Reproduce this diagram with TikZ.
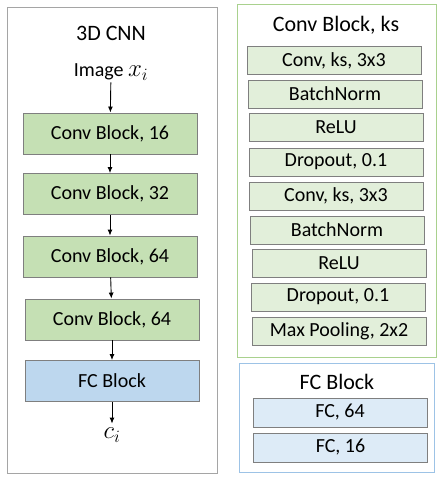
\documentclass[tikz,border=0pt]{standalone}
\usepackage{fontspec}
\setmainfont{Carlito}
\usetikzlibrary{arrows.meta, positioning}
\definecolor{green1}{RGB}{197,224,180}
\definecolor{green2}{RGB}{226,239,218}
\definecolor{blue1}{RGB}{189,215,238}
\definecolor{blue2}{RGB}{221,235,247}
\definecolor{gray1}{RGB}{127,127,127}
\definecolor{framegray}{RGB}{165,165,165}
\definecolor{framegreen}{RGB}{169,209,142}
\definecolor{frameblue}{RGB}{157,195,230}

\begin{document}
\begin{tikzpicture}[x=1pt, y=-1pt,
    every node/.style={anchor=center, inner sep=0pt, font=\fontsize{20}{24}\selectfont},
    myarrow/.style={-{Latex[length=6pt, width=5pt]}, line width=0.9pt, black},
    title/.style={font=\fontsize{22}{26}\selectfont},
    mathlabel/.style={font=\fontsize{24}{28}\selectfont, inner sep=4pt},
    convbox/.style={rectangle, draw=gray1, fill=green1, line width=0.9pt, minimum width=174pt, minimum height=41pt},
    fcbox/.style={convbox, fill=blue1},
    layerbox/.style={rectangle, draw=gray1, fill=green2, line width=0.9pt, minimum width=174pt, minimum height=28pt},
    fclayer/.style={layerbox, fill=blue2, minimum height=29pt}
]
\useasboundingbox (0,0) rectangle (445,482);

% frames
\draw[framegray, line width=0.9pt] (7,7) rectangle (217,473);
\draw[framegreen, line width=0.9pt] (237,4) rectangle (436,357);
\draw[frameblue, line width=0.9pt] (239,363) rectangle (434,472);

% 3D CNN
\node[title, name=cnntitle] at (111,33) {3D CNN};
\node[name=img, inner sep=2pt] at (111,72) {Image {\fontsize{24}{28}\selectfont$x_i$}};
\node[convbox, name=cb16] at (110,133.5) {Conv Block, 16};
\node[convbox, name=cb32] at (110,194) {Conv Block, 32};
\node[convbox, name=cb64a] at (110,256.5) {Conv Block, 64};
\node[convbox, name=cb64b] at (112,319.5) {Conv Block, 64};
\node[fcbox, name=fc] at (112,381) {FC Block};
\node[mathlabel, name=ci] at (112,435) {$c_i$};

\draw[myarrow] (img) -- (cb16);
\draw[myarrow] (cb16) -- (cb32);
\draw[myarrow] (cb32) -- (cb64a);
\draw[myarrow] (cb64a) -- (cb64b);
\draw[myarrow] (cb64b) -- (fc);
\draw[myarrow] (fc) -- (ci);

% Conv Block, ks
\node[title, name=convtitle] at (336,25) {Conv Block, ks};
\foreach \i/\x/\y/\t in {1/334/60.5/{Conv, ks, 3x3}, 2/335/94/{BatchNorm}, 3/336/127/{ReLU},
    4/336/162/{Dropout, 0.1}, 5/336/196/{Conv, ks, 3x3}, 6/337/230/{BatchNorm},
    7/339/263/{ReLU}, 8/338/297/{Dropout, 0.1}, 9/339/331/{Max Pooling, 2x2}} {
    \node[layerbox, name=layer\i] at (\x,\y) {\t};
}

% FC Block
\node[title, name=fctitle] at (337,382) {FC Block};
\node[fclayer, name=fc64] at (340,412.5) {FC, 64};
\node[fclayer, name=fc16] at (340.5,447.5) {FC, 16};

\end{tikzpicture}
\end{document}
